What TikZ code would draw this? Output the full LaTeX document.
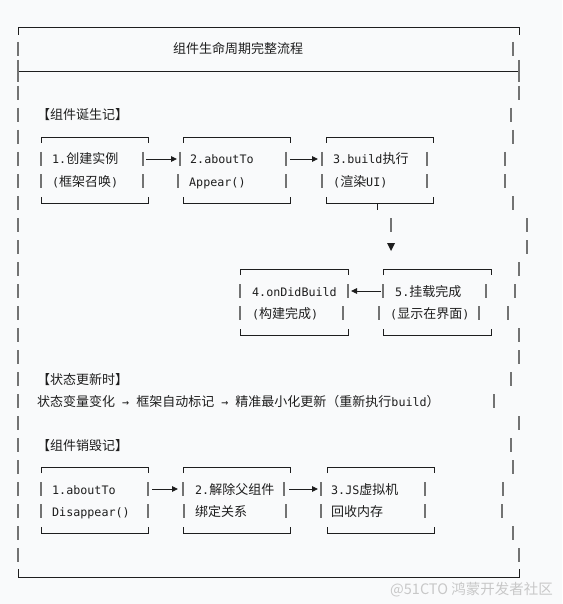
\documentclass[tikz,border=0pt]{standalone}
\usepackage{fontspec}
\usetikzlibrary{arrows.meta}
\newfontfamily\cjk{Noto Sans CJK SC}
\newfontfamily\monof{DejaVu Sans Mono}[Scale=0.9]
\newcommand\mo[1]{{\monof #1}}
\definecolor{bgc}{RGB}{249,250,251}
\definecolor{ink}{RGB}{30,30,30}
\definecolor{bar}{RGB}{115,115,115}
\definecolor{wmc}{RGB}{200,200,200}
\tikzset{
 hl/.style={draw=ink, line width=0.9pt},
 vb/.style={draw=bar, line width=1.05pt},
 arr/.style={draw=ink, line width=0.9pt, -{Triangle[length=6pt,width=5.5pt]}},
 txt/.style={anchor=base west, inner sep=0pt, text=ink, font=\fontsize{13}{15}\selectfont\cjk},
}
\newcommand\vbar[2]{\draw[vb] (#1,{#2-7}) -- (#1,{#2+7});}
\newcommand\frm[4]{%
 \draw[hl] (#1,{#3+6}) -- (#1,#3) -- (#2,#3) -- (#2,{#3+6});
 \draw[hl] (#1,{#4-6}) -- (#1,#4) -- (#2,#4) -- (#2,{#4-6});}
\begin{document}
\begin{tikzpicture}[x=1pt,y=-1pt]
\useasboundingbox (0,0) rectangle (562,604);
\fill[bgc] (0,0) rectangle (562,604);
% outer frame
\draw[hl] (18,35) -- (18,27) -- (519,27) -- (519,35);
\draw[hl] (18,71) -- (519,71);
\draw[vb] (18,60) -- (18,82);
\draw[vb] (519,60) -- (519,82);
\draw[hl] (18,569) -- (18,577) -- (519,577) -- (519,569);
\foreach \r in {1,3,4,...,24} {\vbar{18}{\r*22+27}}
\foreach \x/\r in {513/1,519/3,511/4,513/5,505/6,505/7,513/8,527/9,527/10,519/11,515/12,508/13,519/14,519/15,511/16,494/17,519/18,511/19,513/20,503/21,502/22,513/23,519/24} {\vbar{\x}{\r*22+27}}
% title
\node[txt, anchor=base] (title) at (238,54) {组件生命周期完整流程};
% section 1
\node[txt] (s1) at (37,120) {【组件诞生记】};
\frm{41}{148}{137}{203}
\frm{183}{290}{137}{203}
\frm{326}{433}{137}{203}
\foreach \x/\r in {41/6,41/7,143/6,143/7,180/6,178/7,286/6,286/7,322/6,322/7,427/6,427/7} {\vbar{\x}{\r*22+27}}
\node[txt] (b1a) at (52,164) {\mo{1.}创建实例};
\node[txt] (b1b) at (52,186) {\mo{(}框架召唤\mo{)}};
\node[txt] (b2a) at (190,164) {\mo{2.aboutTo}};
\node[txt] (b2b) at (189,186) {\mo{Appear()}};
\node[txt] (b3a) at (333,164) {\mo{3.build}执行};
\node[txt] (b3b) at (333,186) {\mo{(}渲染\mo{UI)}};
\coordinate (a1s) at (146,159); \coordinate (a1e) at (177,159);
\coordinate (a2s) at (290,159); \coordinate (a2e) at (318,159);
\draw[arr] (a1s) -- (a1e);
\draw[arr] (a2s) -- (a2e);
% down connector
\coordinate (d0) at (377,203); \coordinate (d1) at (377,210);
\coordinate (d2) at (391,218); \coordinate (d3) at (391,232);
\draw[hl] (d0) -- (d1);
\draw[vb] (d2) -- (d3);
\fill[ink] (387,243) -- (395,243) -- (391,251) -- cycle;
% row 2
\frm{240}{348}{269}{335}
\frm{383}{491}{269}{335}
\foreach \x/\r in {240/12,240/13,348/12,343/13,383/12,379/13,486/12,479/13} {\vbar{\x}{\r*22+27}}
\node[txt] (b4a) at (252,296) {\mo{4.onDidBuild}};
\node[txt] (b4b) at (252,318) {\mo{(}构建完成\mo{)}};
\node[txt] (b5a) at (395,296) {\mo{5.}挂载完成};
\node[txt] (b5b) at (390,318) {\mo{(}显示在界面\mo{)}};
\coordinate (a3s) at (381,291); \coordinate (a3e) at (351,291);
\draw[arr] (a3s) -- (a3e);
% section 2
\node[txt] (s2) at (37,384) {【状态更新时】};
\node[txt] (flow) at (37,406) {状态变量变化\mo{\ →\ }框架自动标记\mo{\ →\ }精准最小化更新（重新执行\mo{build}）};
% section 3
\node[txt] (s3) at (37,450) {【组件销毁记】};
\frm{41}{148}{467}{533}
\frm{183}{290}{467}{533}
\frm{327}{434}{467}{533}
\foreach \x/\r in {41/21,41/22,148/21,148/22,183/21,184/22,284/21,286/22,321/21,321/22,425/21,425/22} {\vbar{\x}{\r*22+27}}
\node[txt] (c1a) at (52,494) {\mo{1.aboutTo}};
\node[txt] (c1b) at (52,516) {\mo{Disappear()}};
\node[txt] (c2a) at (195,494) {\mo{2.}解除父组件};
\node[txt] (c2b) at (195,516) {绑定关系};
\node[txt] (c3a) at (331,494) {\mo{3.JS}虚拟机};
\node[txt] (c3b) at (331,516) {回收内存};
\coordinate (a4s) at (152,489); \coordinate (a4e) at (178,489);
\coordinate (a5s) at (289,489); \coordinate (a5e) at (318,489);
\draw[arr] (a4s) -- (a4e);
\draw[arr] (a5s) -- (a5e);
% watermark
\node[anchor=base west, inner sep=0pt, text=wmc, font=\fontsize{14.5}{16}\selectfont\cjk] (wm) at (390,594) {@51CTO 鸿蒙开发者社区};
\end{tikzpicture}
\end{document}
